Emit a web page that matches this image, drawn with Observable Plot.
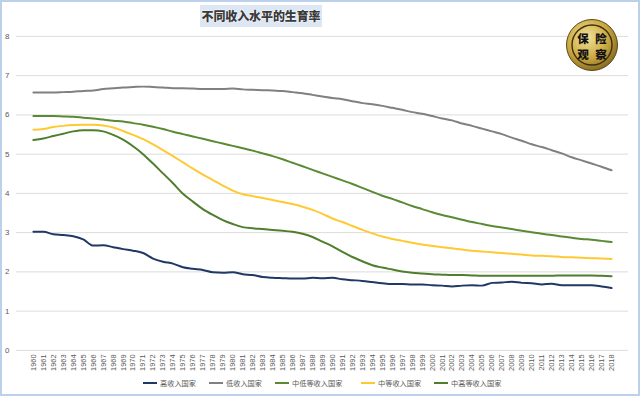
<!DOCTYPE html>
<html>
<head>
<meta charset="utf-8">
<script src="https://cdn.jsdelivr.net/npm/d3@7"></script>
<script src="https://cdn.jsdelivr.net/npm/@observablehq/plot@0.6"></script>
<style>
  html, body { margin: 0; padding: 0; background: #fff; }
  #wrap { position: relative; width: 640px; height: 396px; box-sizing: border-box; border: 2px solid #bcd0ec; overflow: hidden; background: #fff; font-family: "Noto Sans CJK SC", "Noto Sans", sans-serif; }
  #chart { position: absolute; left: -2px; top: -2px; }
  #title { position: absolute; left: 198px; top: 3px; width: 122px; height: 22px; background: #dde7f3; text-align: center; font-weight: 900; font-size: 12px; line-height: 22px; color: #3a3a3a; text-shadow: 0 0 1px #fff, 0 0 2px #fff; letter-spacing: -0.1px; }
  .leg { position: absolute; top: 375px; height: 12px; font-size: 7.2px; line-height: 12px; color: #595959; white-space: nowrap; }
  .leg i { position: absolute; left: 0; top: 5px; width: 14px; height: 2px; }
  .leg span { position: absolute; top: 0; }
  #logo { position: absolute; left: 563px; top: 16px; }
</style>
</head>
<body>
<div id="wrap">
  <div id="chart"></div>
  <div id="title">不同收入水平的生育率</div>
  <div id="legend"></div>
  <svg id="logo" width="54" height="54" viewBox="0 0 54 54">
    <defs>
      <radialGradient id="g1" cx="40%" cy="35%" r="70%">
        <stop offset="0%" stop-color="#f3e39a"/>
        <stop offset="60%" stop-color="#c9a740"/>
        <stop offset="100%" stop-color="#7d6420"/>
      </radialGradient>
    </defs>
    <circle cx="27" cy="27" r="25.5" fill="url(#g1)" stroke="#5e4a14" stroke-width="1"/>
    <circle cx="27" cy="27" r="20" fill="none" stroke="#3d300c" stroke-width="1.4"/>
    <text x="18" y="25" font-size="11.5" font-weight="900" text-anchor="middle" fill="#111" font-family="Noto Sans CJK SC">保</text>
    <text x="36" y="25" font-size="11.5" font-weight="900" text-anchor="middle" fill="#111" font-family="Noto Sans CJK SC">险</text>
    <text x="18" y="41" font-size="11.5" font-weight="900" text-anchor="middle" fill="#111" font-family="Noto Sans CJK SC">观</text>
    <text x="36" y="41" font-size="11.5" font-weight="900" text-anchor="middle" fill="#111" font-family="Noto Sans CJK SC">察</text>
  </svg>
</div>
<script>
const years = d3.range(1960, 2019);
const yTicks = [0, 1, 2, 3, 4, 5, 6, 7, 8];
const seriesNames = ["高收入国家", "低收入国家", "中低等收入国家", "中等收入国家", "中高等收入国家"];
const seriesColors = ["#1f3864", "#808080", "#5a8a34", "#ffc934", "#4f7e2c"];

const highIncome = [3.02,3.02,2.96,2.94,2.91,2.83,2.67,2.68,2.63,2.58,2.54,2.48,2.34,2.26,2.21,2.12,2.08,2.05,1.99,1.98,
  1.99,1.94,1.92,1.87,1.85,1.84,1.83,1.83,1.85,1.84,1.85,1.81,1.79,1.77,1.74,1.71,1.69,1.69,1.68,1.68,
  1.66,1.65,1.63,1.65,1.66,1.65,1.72,1.73,1.75,1.72,1.71,1.68,1.70,1.66,1.66,1.66,1.66,1.63,1.59];
const lowIncome = [6.57,6.57,6.57,6.58,6.59,6.61,6.62,6.66,6.68,6.70,6.71,6.72,6.71,6.70,6.68,6.68,6.67,6.66,6.66,6.66,
  6.67,6.65,6.64,6.63,6.62,6.61,6.58,6.55,6.51,6.47,6.43,6.40,6.35,6.30,6.27,6.23,6.18,6.13,6.07,6.03,
  5.97,5.91,5.86,5.78,5.72,5.65,5.58,5.51,5.42,5.34,5.25,5.18,5.10,5.02,4.92,4.84,4.76,4.68,4.59];
const lowerMiddle = [5.97,5.97,5.97,5.96,5.95,5.93,5.91,5.88,5.85,5.83,5.79,5.75,5.70,5.64,5.57,5.51,5.45,5.39,5.33,5.27,
  5.21,5.15,5.09,5.02,4.95,4.87,4.78,4.69,4.60,4.51,4.42,4.33,4.24,4.14,4.04,3.94,3.86,3.77,3.68,3.60,
  3.52,3.45,3.39,3.33,3.27,3.22,3.17,3.13,3.09,3.05,3.01,2.97,2.94,2.90,2.87,2.84,2.82,2.79,2.76];
const middleIncome = [5.62,5.64,5.69,5.72,5.74,5.75,5.75,5.73,5.68,5.59,5.49,5.38,5.25,5.10,4.95,4.79,4.63,4.48,4.34,4.20,
  4.07,3.98,3.93,3.88,3.83,3.78,3.73,3.66,3.58,3.48,3.36,3.27,3.17,3.07,2.98,2.90,2.84,2.79,2.74,2.70,
  2.66,2.63,2.60,2.57,2.54,2.52,2.50,2.48,2.46,2.44,2.42,2.41,2.40,2.38,2.37,2.36,2.35,2.34,2.33];
const upperMiddle = [5.36,5.40,5.46,5.52,5.58,5.61,5.61,5.58,5.49,5.37,5.20,5.00,4.76,4.51,4.26,3.99,3.79,3.60,3.45,3.32,
  3.22,3.14,3.11,3.09,3.07,3.05,3.02,2.97,2.89,2.77,2.65,2.51,2.38,2.27,2.17,2.11,2.06,2.01,1.98,1.96,
  1.94,1.93,1.92,1.92,1.91,1.90,1.90,1.90,1.90,1.90,1.90,1.90,1.90,1.91,1.91,1.91,1.91,1.90,1.89];

const seriesValues = [highIncome, lowIncome, lowerMiddle, middleIncome, upperMiddle];
const rows = [];
seriesNames.forEach((name, i) => {
  years.forEach((yr, j) => rows.push({series: name, year: yr, value: seriesValues[i][j]}));
});

const chart = Plot.plot({
  width: 640,
  height: 396,
  marginTop: 36,
  marginBottom: 45,
  marginLeft: 16,
  marginRight: 10,
  style: {fontFamily: "'Liberation Sans', 'Noto Sans', sans-serif", fontSize: "8px", color: "#595959", background: "transparent"},
  x: {type: "point", domain: years, padding: 0.5},
  y: {domain: [0, 8]},
  color: {domain: seriesNames, range: seriesColors},
  marks: [
    Plot.ruleY(yTicks, {stroke: "#dcdcdc", strokeWidth: 1}),
    Plot.axisY({ticks: yTicks, tickSize: 0, tickPadding: 7, label: null, fontSize: 8, fill: "#595959"}),
    Plot.axisX({tickSize: 0, tickRotate: -90, tickPadding: 4, label: null, fontSize: 7.5, fill: "#595959", tickFormat: d => String(d)}),
    Plot.line(rows, {x: "year", y: "value", z: "series", stroke: "series", strokeWidth: 2, strokeLinejoin: "round", curve: "monotone-x"})
  ]
});
document.getElementById("chart").appendChild(chart);

// Legend
const legendLeft = [143, 209, 275, 361, 434];
const legend = document.getElementById("legend");
seriesNames.forEach((name, i) => {
  const d = document.createElement("div");
  d.className = "leg";
  d.style.left = (legendLeft[i] - 2) + "px";
  d.innerHTML = `<i style="background:${seriesColors[i]}"></i><span style="left:17px">${name}</span>`;
  legend.appendChild(d);
});
</script>
</body>
</html>
